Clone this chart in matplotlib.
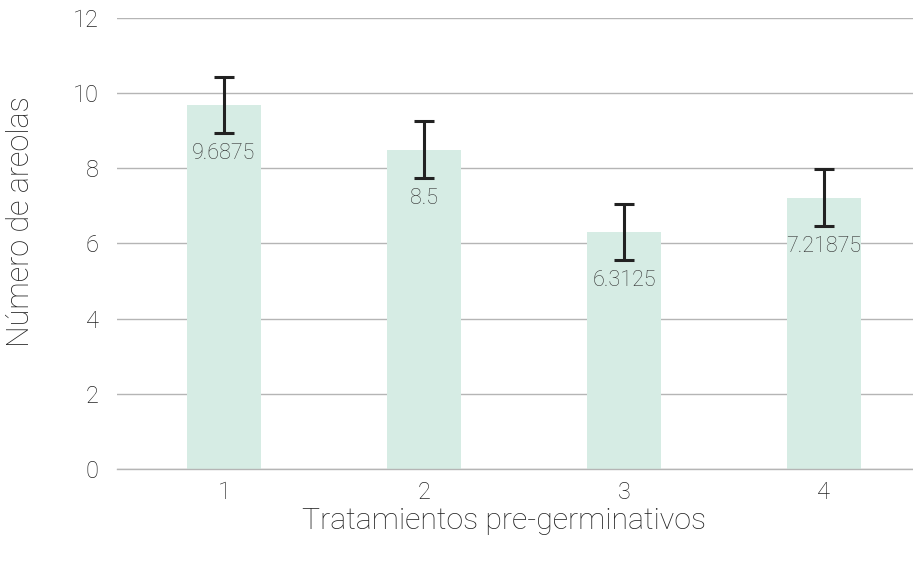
import matplotlib
matplotlib.use("Agg")
import matplotlib.pyplot as plt
import numpy as np

categories = ["1", "2", "3", "4"]
values = [9.6875, 8.5, 6.3125, 7.21875]
errors = [0.75, 0.75, 0.75, 0.75]
labels = ["9.6875", "8.5", "6.3125", "7.21875"]

plt.rcParams["font.family"] = ["Roboto", "DejaVu Sans"]
plt.rcParams["font.weight"] = "light"

fig = plt.figure(figsize=(9.13, 5.61), dpi=100)
ax = fig.add_axes([0.128, 0.164, 0.872, 0.804])

x = np.arange(len(categories))
ax.bar(x, values, width=0.37, color="#d6ece4", zorder=2)
ax.errorbar(x, values, yerr=errors, fmt="none", ecolor="#222222",
            elinewidth=2.2, capsize=7, capthick=2.2, zorder=3)

for xi, v, lab in zip(x, values, labels):
    ax.annotate(lab, (xi, v), xytext=(0, -35), textcoords="offset points",
                ha="center", va="center", fontsize=15.5, color="#333333",
                fontweight="light")

ax.set_ylim(0, 12)
ax.set_xlim(-0.535, 3.445)
ax.set_yticks([0, 2, 4, 6, 8, 10, 12])
ax.set_xticks(x)
ax.set_xticklabels(categories)
ax.grid(axis="y", color="#b5b5b5", linewidth=1, zorder=0)
ax.axhline(0, color="#b5b5b5", linewidth=1, zorder=4, clip_on=False)
for s in ax.spines.values():
    s.set_visible(False)
ax.tick_params(axis="both", length=0, labelsize=17, colors="#222222")
ax.tick_params(axis="y", pad=13)
ax.tick_params(axis="x", pad=9)

ax.set_xlabel("Tratamientos pre-germinativos", fontsize=21.8, color="#222222",
              fontweight="light")
ax.set_ylabel("Número de areolas", fontsize=22, color="#222222",
              fontweight="light")
ax.xaxis.set_label_coords(0.486, -0.084)
ax.yaxis.set_label_coords(-0.103, 0.548)

fig.savefig("out.png", dpi=100)
